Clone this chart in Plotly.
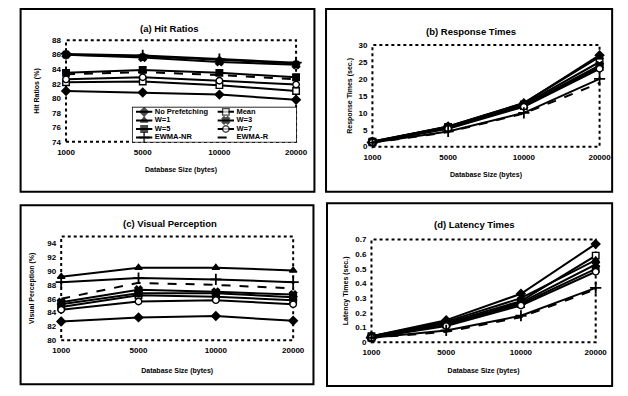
import plotly.graph_objects as go

# ---------------- data ----------------
sizes = ["1000", "5000", "10000", "20000"]
series = ["No Prefetching", "Mean", "W=1", "W=3", "W=5", "W=7", "EWMA-NR", "EWMA-R"]

# each row follows the order of `series`
hit_ratios = [
    [81.0, 80.8, 80.5, 79.8],
    [82.2, 82.3, 81.8, 81.0],
    [86.0, 85.8, 85.3, 84.8],
    [86.0, 85.6, 85.0, 84.6],
    [83.5, 83.9, 83.5, 82.9],
    [82.6, 82.9, 82.4, 81.9],
    [86.1, 85.9, 85.4, 84.9],
    [83.3, 83.6, 83.2, 82.6],
]
response_times = [
    [1.5, 6.0, 12.8, 27.0],
    [1.5, 5.8, 12.5, 25.0],
    [1.4, 6.0, 12.9, 26.5],
    [1.4, 5.7, 12.2, 24.0],
    [1.3, 5.5, 12.0, 23.5],
    [1.3, 5.3, 11.8, 23.0],
    [1.2, 4.5, 10.0, 20.0],
    [1.2, 4.3, 9.8, 18.8],
]
visual_perception = [
    [82.7, 83.3, 83.5, 82.8],
    [84.8, 86.5, 86.3, 85.8],
    [89.2, 90.5, 90.5, 90.1],
    [85.5, 87.3, 87.0, 86.6],
    [85.2, 86.8, 86.8, 86.2],
    [84.4, 85.6, 85.8, 85.2],
    [88.4, 89.0, 88.8, 88.4],
    [86.0, 88.3, 88.0, 87.5],
]
latency_times = [
    [0.04, 0.15, 0.33, 0.67],
    [0.04, 0.13, 0.28, 0.59],
    [0.04, 0.14, 0.30, 0.56],
    [0.03, 0.12, 0.27, 0.53],
    [0.03, 0.12, 0.26, 0.50],
    [0.03, 0.11, 0.25, 0.48],
    [0.03, 0.08, 0.18, 0.37],
    [0.03, 0.07, 0.17, 0.36],
]

# ---------------- styles ----------------
symbols = ["diamond", "square", "triangle-up", "x", "square", "circle", "cross-thin", None]
fills = ["black", "white", "black", "black", "black", "white", "black", None]
dashes = ["solid"] * 7 + ["dash"]

W, H = 628, 396
def px(x): return x / W
def py(y): return 1 - y / H

BOLD = "Liberation Sans"
NARROW = "Liberation Sans Narrow, Liberation Sans"

panels = [
    dict(title="(a) Hit Ratios", ytitle="Hit Ratios (%)", data=hit_ratios,
         yr=[74, 88], dtick=2, plot=(59, 297, 37, 141), frame=(12, 316, 5, 192),
         tx=166, ty=25, ys=11, xs=11),
    dict(title="(b) Response Times", ytitle="Response Times (sec.)", data=response_times,
         yr=[0, 30], dtick=5, plot=(376, 611, 42, 146), frame=(328, 624, 5, 192),
         tx=478, ty=28, ys=5, xs=11),
    dict(title="(c) Visual Perception", ytitle="Visual Perception (%)", data=visual_perception,
         yr=[80, 95], dtick=2, plot=(54, 294, 238, 344), frame=(12, 315, 206, 389),
         tx=167, ty=225, ys=11, xs=13),
    dict(title="(d) Latency Times", ytitle="Latency Times (sec.)", data=latency_times,
         yr=[0, 0.7], dtick=0.1, plot=(375, 607, 241, 346), frame=(329, 624, 204, 391),
         tx=482, ty=226, ys=5, xs=11),
]

def make_marker(i):
    m = dict(size=6.5, color=fills[i] or "black", line=dict(color="black", width=1.4))
    if symbols[i]:
        m["symbol"] = symbols[i]
        if symbols[i] == "cross-thin":
            m["size"] = 8
            m["line"]["width"] = 1.8
    return m

fig = go.Figure()
shapes, annotations = [], []
xpos = list(range(len(sizes)))

for k, p in enumerate(panels):
    n = "" if k == 0 else str(k + 1)
    xa, ya = "x" + n, "y" + n
    for i, name in enumerate(series):
        fig.add_trace(go.Scatter(
            x=xpos, y=p["data"][i], mode="lines+markers" if symbols[i] else "lines",
            name=name, showlegend=False, xaxis=xa, yaxis=ya, cliponaxis=False,
            line=dict(color="black", width=2, dash=dashes[i]), marker=make_marker(i)))
    x0, x1, y0, y1 = p["plot"]
    f0, f1, g0, g1 = p["frame"]
    fig.update_layout(**{
        ("xaxis" + n): dict(domain=[px(x0), px(x1)], anchor=ya, range=[0, 3],
                            tickvals=xpos, ticktext=sizes, showgrid=False, zeroline=False,
                            showline=False, ticks="", ticklabelstandoff=4,
                            tickfont=dict(family=BOLD, size=8, color="black", weight="bold"),
                            title=dict(text="Database Size (bytes)", standoff=p["xs"],
                                       font=dict(family=NARROW, size=7, color="black", weight="bold"))),
        ("yaxis" + n): dict(domain=[py(y1), py(y0)], anchor=xa, range=p["yr"], dtick=p["dtick"],
                            showgrid=False, zeroline=False, showline=False, ticks="",
                            ticklabelstandoff=4,
                            tickfont=dict(family=BOLD, size=8, color="black", weight="bold"),
                            title=dict(text=p["ytitle"], standoff=p["ys"],
                                       font=dict(family=NARROW, size=7, color="black", weight="bold"))),
    })
    shapes.append(dict(type="rect", xref=xa + " domain", yref=ya + " domain", x0=0, x1=1, y0=0, y1=1,
                       line=dict(color="black", width=2, dash="dot"), layer="below"))
    shapes.append(dict(type="rect", xref="paper", yref="paper", x0=px(f0), x1=px(f1),
                       y0=py(g1), y1=py(g0), line=dict(color="black", width=2)))
    annotations.append(dict(text="<b>" + p["title"] + "</b>", xref="paper", yref="paper",
                            x=px(p["tx"]), y=py(p["ty"]), xanchor="center", yanchor="middle",
                            showarrow=False, font=dict(family=BOLD, size=9.5, color="black")))

# ---------------- legend box inside panel (a) ----------------
lx0, lx1, ly0, ly1 = 128, 297, 106, 141
lxa, lya = "x5", "y5"
fig.update_layout(
    xaxis5=dict(domain=[px(lx0), px(lx1)], anchor=lya, range=[0, 2], visible=False, fixedrange=True),
    yaxis5=dict(domain=[py(ly1), py(ly0)], anchor=lxa, range=[4, 0], visible=False, fixedrange=True),
)
shapes.append(dict(type="rect", xref="paper", yref="paper", x0=px(lx0), x1=px(lx1),
                   y0=py(ly1), y1=py(ly0), fillcolor="white", line=dict(color="black", width=1.5),
                   layer="below"))
for i, name in enumerate(series):
    col, row = i % 2, i // 2
    yy = row + 0.5
    m = make_marker(i)
    m["size"] = [0, m["size"], 0]
    fig.add_trace(go.Scatter(
        x=[col + 0.04, col + 0.14, col + 0.24], y=[yy, yy, yy],
        mode="lines+markers" if symbols[i] else "lines", marker=m,
        showlegend=False, hoverinfo="skip", xaxis=lxa, yaxis=lya, cliponaxis=False,
        line=dict(color="black", width=2, dash=dashes[i])))
    fig.add_trace(go.Scatter(
        x=[col + 0.27], y=[yy], mode="text", text=[name], textposition="middle right",
        textfont=dict(family=NARROW, size=7.5, color="black", weight="bold"),
        showlegend=False, hoverinfo="skip", xaxis=lxa, yaxis=lya, cliponaxis=False))

fig.update_layout(
    width=W, height=H, margin=dict(l=0, r=0, t=0, b=0),
    paper_bgcolor="white", plot_bgcolor="white",
    showlegend=False, shapes=shapes, annotations=annotations,
)
fig.write_html("out.html")
